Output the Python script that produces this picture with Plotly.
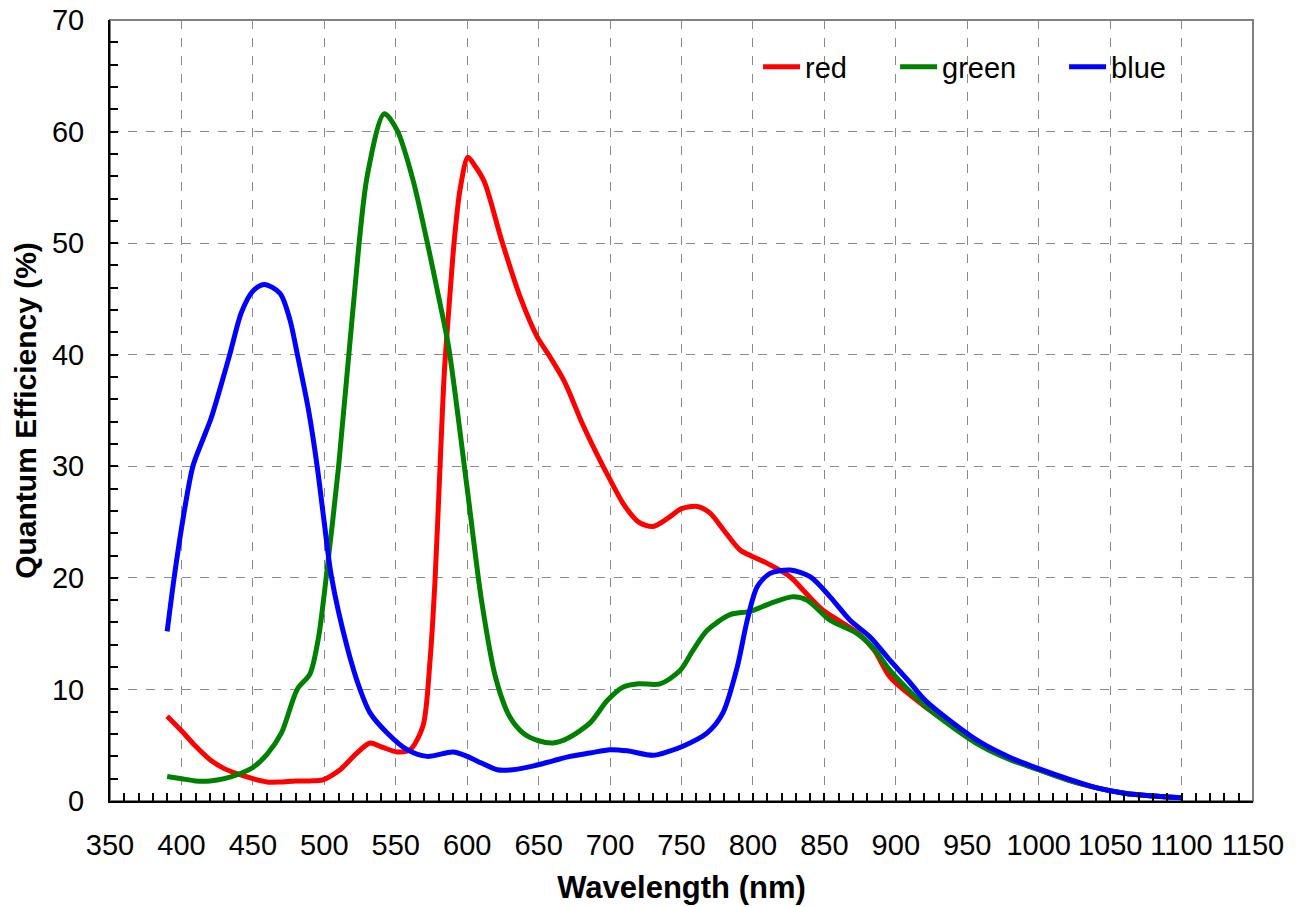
import plotly.graph_objects as go

# wavelength (nm) and quantum efficiency (%)
red_nm = [390, 400, 410, 420, 430, 440, 450, 460, 469, 480, 490, 499, 511, 522, 532, 541, 551, 560,
          569, 574, 577.5, 581, 584, 588, 591, 595, 600.5, 605, 612, 624, 637, 649, 658, 668, 680, 690,
          700, 710, 720, 730, 740, 750, 761, 770, 780, 791, 800, 810, 826, 838, 849, 861, 873, 885,
          896, 920, 940, 960, 980, 1000, 1020, 1040, 1060, 1080, 1100]
red_qe = [7.6, 6.3, 4.9, 3.7, 2.9, 2.4, 2.0, 1.7, 1.7, 1.8, 1.8, 1.9, 2.8, 4.2, 5.2, 4.8, 4.4, 4.6,
          6.7, 12.6, 19.8, 30.0, 38.4, 45.5, 50.3, 54.8, 57.7, 57.0, 55.5, 50.3, 45.2, 41.6, 39.8, 37.6, 34.0, 31.3,
          28.8, 26.5, 25.0, 24.6, 25.3, 26.2, 26.4, 25.8, 24.2, 22.5, 21.9, 21.3, 20.1, 18.5, 17.1, 16.1, 15.1, 13.5,
          11.1, 8.5, 6.7, 5.0, 3.8, 2.8, 1.9, 1.2, 0.7, 0.45, 0.3]

green_nm = [390, 400, 410, 420, 430, 440, 450, 460, 470, 481, 490, 496, 500, 510, 520, 530, 542, 551,
            562, 572, 580, 587, 600, 610, 620, 630, 640, 650, 660, 670, 686, 698, 709, 720, 735, 749,
            758, 768, 784, 798, 812, 828, 838, 854, 873, 885, 896, 920, 940, 960, 980, 1000, 1020, 1040,
            1060, 1080, 1100]
green_qe = [2.2, 2.0, 1.8, 1.8, 2.0, 2.4, 3.0, 4.2, 6.1, 10.0, 11.4, 14.7, 18.6, 30.0, 44.0, 56.0, 61.6, 60.1,
            55.7, 50.1, 45.2, 40.7, 28.0, 18.0, 11.0, 7.5, 6.0, 5.4, 5.2, 5.6, 7.0, 9.0, 10.2, 10.5, 10.5, 11.7,
            13.5, 15.3, 16.7, 17.0, 17.7, 18.3, 18.0, 16.2, 15.0, 13.6, 11.7, 8.6, 6.6, 4.9, 3.7, 2.8, 1.9, 1.2,
            0.7, 0.45, 0.3]

blue_nm = [390, 395, 401, 408, 415, 421, 428, 434, 442, 450, 458, 469, 476, 481, 489, 495, 500, 505,
           516, 525, 532, 544, 558, 572, 590, 600, 610, 621, 632, 645, 660, 672, 686, 700, 712, 730,
           740, 751, 768, 779, 789, 796, 803, 812, 826, 840, 854, 868, 882, 896, 910, 920, 940, 960,
           980, 1000, 1020, 1040, 1060, 1080, 1100]
blue_qe = [15.2, 20.1, 25.2, 30.0, 32.4, 34.4, 37.4, 40.1, 43.8, 45.7, 46.3, 45.5, 43.1, 40.1, 35.0, 30.0, 24.9, 20.1,
           13.8, 10.0, 7.9, 6.1, 4.6, 4.0, 4.4, 4.0, 3.4, 2.8, 2.8, 3.1, 3.6, 4.0, 4.3, 4.6, 4.5, 4.1,
           4.4, 4.9, 6.1, 7.9, 12.0, 16.2, 19.2, 20.4, 20.7, 20.1, 18.3, 16.2, 14.7, 12.6, 10.6, 9.1, 7.0, 5.2,
           3.9, 2.9, 2.0, 1.2, 0.7, 0.45, 0.3]

series = [("red", red_nm, red_qe, "#ff0000", 85),
          ("green", green_nm, green_qe, "#008000", 117),
          ("blue", blue_nm, blue_qe, "#0000ff", 65)]

fig = go.Figure()
for name, xs, ys, color, lw in series:
    fig.add_trace(go.Scatter(x=xs, y=ys, mode="lines", name=name, legendwidth=lw,
                             line=dict(color=color, width=5, shape="spline", smoothing=0.8)))

font = "Liberation Sans, Arial, sans-serif"
axis_common = dict(
    showline=True, linecolor="black", linewidth=2,
    showgrid=True, gridcolor="#8a8a8a", gridwidth=1, griddash="dash",
    ticks="inside", ticklen=8, tickcolor="black", tickwidth=2,
    tickfont=dict(family=font, size=29, color="black"),
    zeroline=False, automargin=False, ticklabeloverflow="allow",
)

fig.update_xaxes(range=[350, 1150], dtick=50, tick0=350,
                 minor=dict(dtick=10, ticks="inside", ticklen=8, tickcolor="black", tickwidth=2, showgrid=False),
                 title=dict(text="<b>Wavelength (nm)</b>", font=dict(family=font, size=31, color="black"), standoff=17),
                 ticklabelstandoff=17, **axis_common)
fig.update_yaxes(range=[0, 70], dtick=10,
                 minor=dict(dtick=2, ticks="inside", ticklen=8, tickcolor="black", tickwidth=2, showgrid=False),
                 title=dict(text="<b>Quantum Efficiency (%)</b>", font=dict(family=font, size=30, color="black"), standoff=6),
                 ticklabelstandoff=18, **axis_common)

# grey frame on the top and right sides
fig.add_shape(type="rect", xref="paper", yref="paper", x0=0, y0=0, x1=1, y1=1,
              line=dict(color="#808080", width=2), layer="below")

fig.update_layout(
    width=1301, height=907,
    margin=dict(l=110, r=48, t=20, b=106),
    paper_bgcolor="white", plot_bgcolor="white",
    font=dict(family=font, color="black"),
    showlegend=True,
    legend=dict(orientation="h", x=0.567, y=0.94, xanchor="left", yanchor="middle",
                font=dict(family=font, size=29, color="black"),
                bgcolor="rgba(0,0,0,0)", itemwidth=37),
)

# drop the page's default body margin so the figure fills the window exactly
fig.write_html("out.html", config={"displayModeBar": False},
               post_script="document.body.style.margin='0';document.body.style.overflow='hidden';")
